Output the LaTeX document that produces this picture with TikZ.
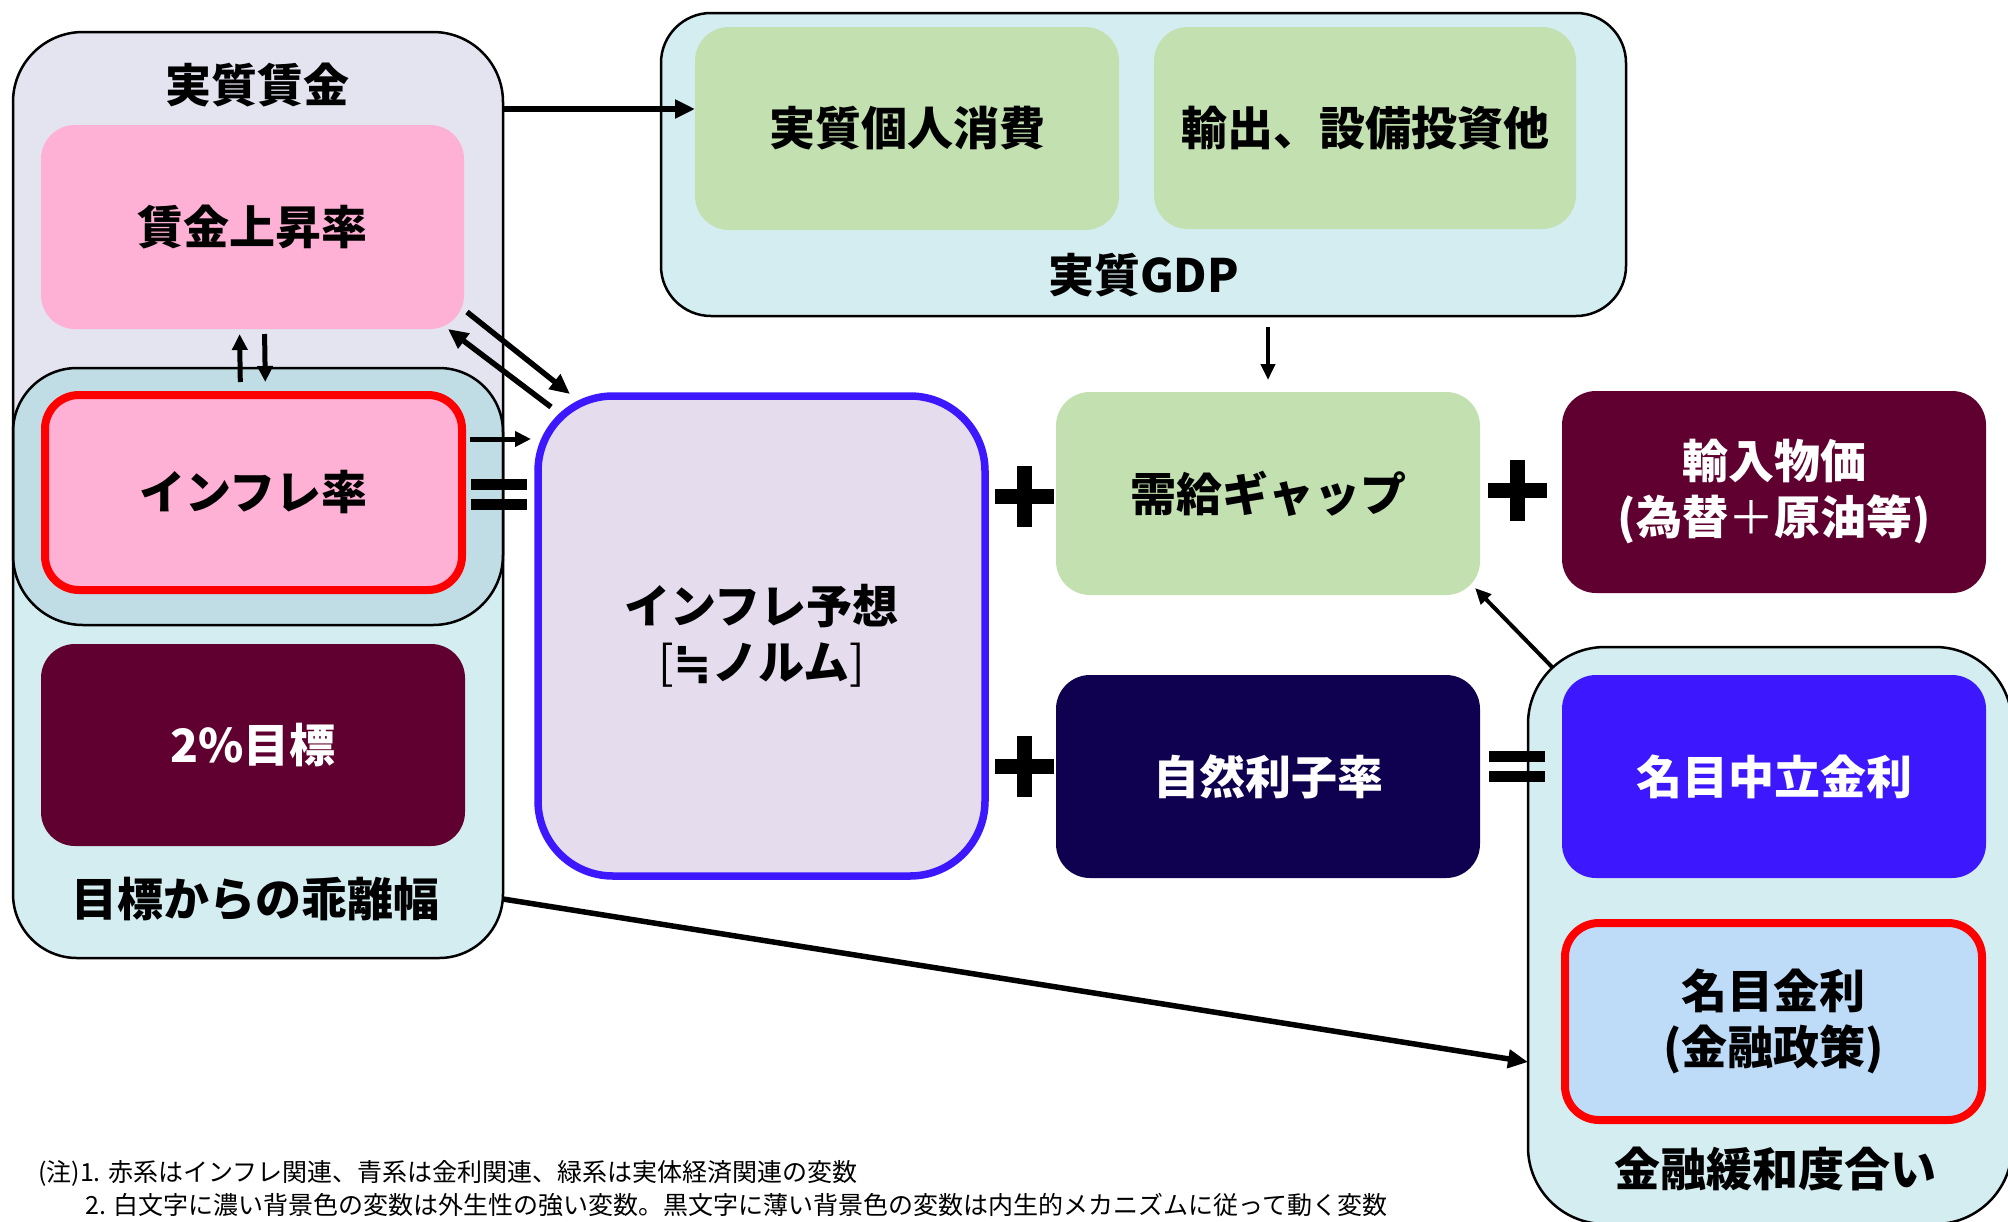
\documentclass[tikz,border=0pt]{standalone}
\usepackage{fontspec}
\setmainfont{Noto Sans CJK JP}
\newfontfamily\symfont{DejaVu Sans}
\usetikzlibrary{arrows.meta,calc}
\definecolor{lav}{HTML}{E3E4F0}
\definecolor{lblue}{HTML}{D4EDF1}
\definecolor{ovl}{HTML}{C0DDE5}
\definecolor{pinkc}{HTML}{FFB0D5}
\definecolor{maroonc}{HTML}{600030}
\definecolor{lgreen}{HTML}{C2E0B0}
\definecolor{navyc}{HTML}{100050}
\definecolor{vblue}{HTML}{3D18FF}
\definecolor{lpurp}{HTML}{E5DDEE}
\definecolor{pblue}{HTML}{BEDCF8}
\begin{document}
\begin{tikzpicture}[x=1pt,y=-1pt,
  bigfont/.style={font=\fontsize{46}{56}\selectfont\bfseries},
  frame/.style={draw=black, line width=2.5pt},
  group/.style={inner sep=0pt, outer sep=0pt},
  inbox/.style={inner sep=0pt, outer sep=0pt, rounded corners=34pt, align=center,
     minimum width=424pt, minimum height=203pt, bigfont},
  lbl/.style={inner sep=0pt, bigfont},
  note/.style={inner sep=0pt, anchor=west, font=\fontsize{25}{30}\selectfont},
  arr/.style={line width=5.5pt, -{Triangle[length=20pt,width=18pt]}},
  arrs/.style={line width=5pt, -{Triangle[length=16pt,width=15pt]}},
  arrt/.style={line width=4pt, -{Triangle[length=16pt,width=14pt]}},
  plusop/.pic={\fill (-29.5,-7.5) rectangle (29.5,7.5); \fill (-7.5,-30.5) rectangle (7.5,30.5);},
  eqop/.pic={\fill (-28,-15.5) rectangle (28,-4.5); \fill (-28,4.5) rectangle (28,15.5);}
]
\fill[white] (0,0) rectangle (2008,1221);
\useasboundingbox (0,0) rectangle (2008,1221);

% group boxes
\node[group, fill=lav, minimum width=490pt, minimum height=593pt, rounded corners=70pt] (wage) at (258,328.5) {};
\node[group, fill=lblue, minimum width=490pt, minimum height=590pt, rounded corners=64pt] (gap) at (258,663) {};
\begin{scope}
  \clip[rounded corners=70pt] (wage.south west) rectangle (wage.north east);
  \fill[ovl, rounded corners=64pt] (gap.south west) rectangle (gap.north east);
\end{scope}
\draw[frame, rounded corners=70pt] (wage.south west) rectangle (wage.north east);
\draw[frame, rounded corners=64pt] (gap.south west) rectangle (gap.north east);
\node[group, fill=lblue, frame, minimum width=965pt, minimum height=303pt, rounded corners=50pt] (gdp) at (1143.5,164.5) {};
\node[group, fill=lblue, frame, minimum width=484pt, minimum height=577pt, rounded corners=77pt] (easing) at (1770,935.5) {};

% group labels
\node[lbl] (wagelbl) at (257,85) {実質賃金};
\node[lbl] (gaplbl) at (255,899) {目標からの乖離幅};
\node[lbl] (gdplbl) at (1143.5,275) {実質GDP};
\node[lbl] (easelbl) at (1775,1169) {金融緩和度合い};

% variable boxes
\node[inbox, fill=pinkc, minimum width=423pt, minimum height=204pt] (wagerate) at (252.5,227) {賃金上昇率};
\node[inbox, fill=pinkc, draw=red, line width=8pt, minimum width=417pt, minimum height=195pt] (infl) at (253.5,492.5) {インフレ率};
\node[inbox, fill=maroonc, text=white, minimum height=202pt] (target) at (253,745) {2\%目標};
\node[inbox, fill=lpurp, draw=vblue, line width=7.5pt, rounded corners=75pt, minimum width=447pt, minimum height=480pt] (expect) at (761.5,636) {インフレ予想\\{\mdseries[}{\symfont ≒}ノルム{\mdseries]}};
\node[inbox, fill=lgreen] (cons) at (907,128.5) {実質個人消費};
\node[inbox, fill=lgreen, minimum width=422pt, minimum height=202pt] (export) at (1365,128) {輸出、設備投資他};
\node[inbox, fill=lgreen] (demand) at (1268,493.5) {需給ギャップ};
\node[inbox, fill=maroonc, text=white, minimum height=202pt] (import) at (1774,492) {輸入物価\\(為替{\mdseries ＋}原油等)};
\node[inbox, fill=navyc, text=white] (natural) at (1268,776.5) {自然利子率};
\node[inbox, fill=vblue, text=white] (neutral) at (1774,776.5) {名目中立金利};
\node[inbox, fill=pblue, draw=red, line width=8pt, minimum width=417pt, minimum height=197pt] (nominal) at (1773.5,1021.5) {名目金利\\(金融政策)};

% operators
\pic at (498.5,494) {eqop};
\pic at (1024,496) {plusop};
\pic at (1024,766) {plusop};
\pic at (1517,490) {plusop};
\pic at (1517,766) {eqop};

% connectors
\coordinate (c1) at ([yshift=19.5pt]cons.west);
\draw[arr] (c1 -| wage.east) -- (c1);
\draw[arrt, shorten <=11pt, shorten >=12pt] (gdp.south -| demand.north) -- (demand.north);
\draw[arrs, shorten <=13pt, shorten >=5pt] ([xshift=-13pt]infl.north) -- ([xshift=-13pt]wagerate.south);
\draw[arrs, shorten <=5pt, shorten >=13pt] ([xshift=12pt]wagerate.south) -- ([xshift=12pt]infl.north);
\draw[arr] ([shift={(3,-17)}]wagerate.south east) -- ([shift={(32,-2)}]expect.north west);
\draw[arr] ([shift={(13,11)}]expect.north west) -- ([shift={(-16,0)}]wagerate.south east);
\coordinate (c2) at ([yshift=53.5pt]infl.east);
\draw[arrs, shorten >=7pt] ([xshift=8pt]c2) -- (c2 -| expect.west);
\draw[arrt] ([shift={(24,20)}]easing.north west) -- ([shift={(-5,-7)}]demand.south east);
\coordinate (c3) at ([yshift=-40.5pt]nominal.west);
\draw[arr] (gaplbl -| gap.east) -- (c3 -| easing.west);

% notes
\node[note] (note1) at (38,1173) {(注)1. 赤系はインフレ関連、青系は金利関連、緑系は実体経済関連の変数};
\node[note] (note2) at (85,1205) {2. 白文字に濃い背景色の変数は外生性の強い変数。黒文字に薄い背景色の変数は内生的メカニズムに従って動く変数};
\end{tikzpicture}
\end{document}
